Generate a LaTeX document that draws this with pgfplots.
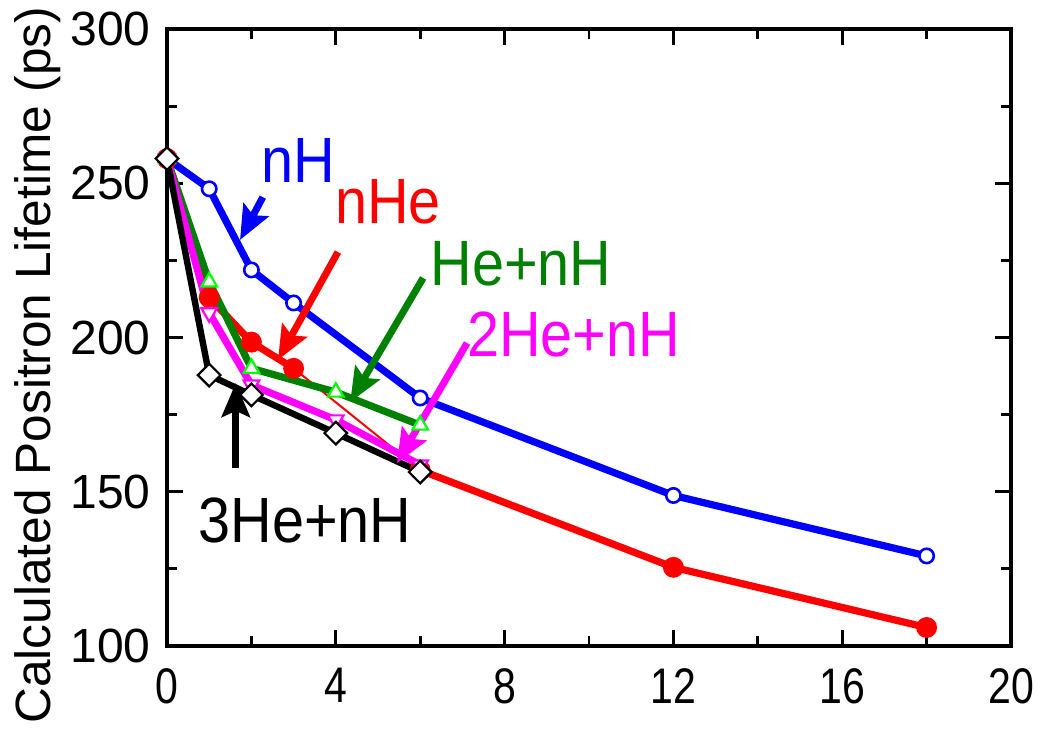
\documentclass[border=0pt]{standalone}
\usepackage{fontspec}
\setmainfont{Liberation Sans}
\usepackage{pgfplots}
\pgfplotsset{compat=1.18}
\usetikzlibrary{arrows.meta}
\definecolor{dgreen}{RGB}{0,128,0}
\definecolor{lgreen}{RGB}{0,255,0}
\definecolor{mag}{RGB}{255,0,255}
\begin{document}
\begin{tikzpicture}
\useasboundingbox (-83.5pt,-42pt) rectangle (435pt,323pt);
\begin{axis}[
  at={(0pt,0pt)}, anchor=south west,
  scale only axis, width=422pt, height=308.5pt,
  xmin=0, xmax=20, ymin=100, ymax=300,
  xtick={0,4,...,20}, ytick={100,150,...,300},
  minor x tick num=1, minor y tick num=1,
  tick align=inside,
  major tick length=8pt, minor tick length=5pt,
  tick style={black, line width=1.4pt},
  axis line style={line width=1.7pt},
  clip=false,
  /pgf/number format/assume math mode=true,
  xticklabel style={font=\fontsize{25}{28}\selectfont, xscale=0.82, anchor=north, inner sep=0pt, yshift=-11pt},
  yticklabel style={font=\fontsize{24}{26}\selectfont, anchor=east, inner sep=0pt, xshift=-8pt},
  ylabel={Calculated Positron Lifetime (ps)},
  ylabel style={font=\fontsize{24.8}{28}\selectfont, at={(axis description cs:-0.1386,0.4554)}, anchor=base},
]
% nH
\addplot[blue, line width=3.6pt, mark=*, mark options={draw=blue, fill=white, line width=1.3pt, mark size=3.6pt}]
  coordinates {(0,258)(1,248.2)(2,221.9)(3,211.2)(6,180.4)(12,148.8)(18,129.2)};
% nHe
\addplot[red, line width=3.6pt, mark=*, mark options={mark size=3.4pt}]
  coordinates {(0,258)(1,213)(2,198.5)(3,190)};
\addplot[red, line width=1pt] coordinates {(3,190)(6,157)};
\addplot[red, line width=3.6pt, mark=*, mark options={mark size=3.4pt}]
  coordinates {(6,157)(12,125.5)(18,106)};
% He+nH
\addplot[dgreen, line width=3.6pt, mark=triangle*, mark options={draw=lgreen, fill=white, line width=1.1pt, mark size=4.5pt}]
  coordinates {(0,258)(1,218)(2,190)(4,182.3)(6,171.6)};
% 2He+nH
\addplot[mag, line width=3.6pt, mark=triangle*, mark options={draw=mag, fill=white, line width=1.1pt, mark size=4.5pt, rotate=180}]
  coordinates {(0,258)(1,208)(2,184.6)(4,173.3)(6,158.7)};
% 3He+nH
\addplot[black, line width=3.2pt, mark=square*, mark options={draw=black, fill=white, line width=1.1pt, mark size=4pt, rotate=45}]
  coordinates {(0,258)(1,187.8)(2,181.4)(4,169)(6,156.4)};
% arrows
\draw[blue, line width=3.5pt, -{Stealth[length=17pt, width=14pt, inset=3pt]}] (2.27,245.5) -- (1.73,231.6);
\draw[red, line width=3.5pt, -{Stealth[length=17pt, width=14pt, inset=3pt]}] (4.05,227.7) -- (2.63,192.7);
\draw[dgreen, line width=3.5pt, -{Stealth[length=17pt, width=14pt, inset=3pt]}] (6.07,219.3) -- (4.34,179.1);
\draw[mag, line width=3.5pt, -{Stealth[length=17pt, width=14pt, inset=3pt]}] (7.11,198.2) -- (5.45,159.3);
\draw[black, line width=3.5pt, -{Stealth[length=17pt, width=14pt, inset=3pt]}] (1.63,157.7) -- (1.63,185.3);
% labels
\node[blue, font=\fontsize{32}{36}\selectfont, xscale=0.9, anchor=base] at (3.10,250.1) {nH};
\node[red, font=\fontsize{32}{36}\selectfont, xscale=0.9, anchor=base] at (5.24,237.1) {nHe};
\node[dgreen, font=\fontsize{32}{36}\selectfont, xscale=0.9, anchor=base] at (8.39,217.0) {He+nH};
\node[mag, font=\fontsize{32}{36}\selectfont, xscale=0.9, anchor=base] at (9.64,193.7) {2He+nH};
\node[black, font=\fontsize{32}{36}\selectfont, xscale=0.9, anchor=base] at (3.27,133.7) {3He+nH};
\end{axis}
\end{tikzpicture}
\end{document}
